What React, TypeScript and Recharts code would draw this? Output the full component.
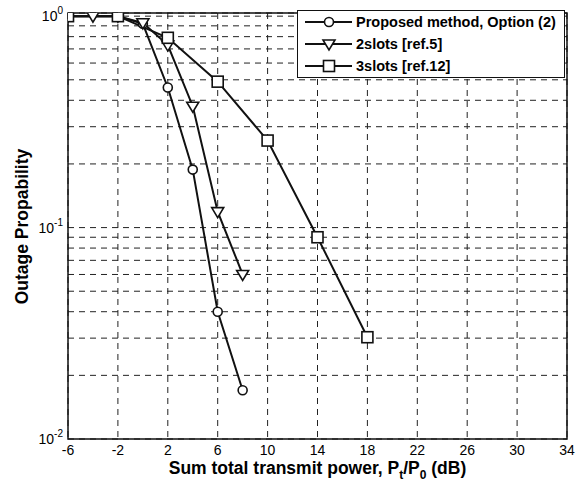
import React from "react";
import {
  LineChart, Line, XAxis, YAxis, CartesianGrid, ReferenceArea, Legend, Label,
} from "recharts";

// x ticks (dB) and log-scale grid values
const xTicks = [-6, -2, 2, 6, 10, 14, 18, 22, 26, 30, 34];
const yGrid = [
  0.01, 0.02, 0.03, 0.04, 0.05, 0.06, 0.07, 0.08, 0.09,
  0.1, 0.2, 0.3, 0.4, 0.5, 0.6, 0.7, 0.8, 0.9, 1,
];

// series
const proposedX = [-6, -2, 0, 2, 4, 6, 8];
const proposedY = [1, 1, 0.92, 0.46, 0.188, 0.04, 0.017];

const twoSlotX = [-6, -4, -2, 0, 2, 4, 6, 8];
const twoSlotY = [1, 1, 1, 0.93, 0.73, 0.375, 0.119, 0.06];

const threeSlotX = [-6, -2, 2, 6, 10, 14, 18];
const threeSlotY = [1, 1, 0.79, 0.49, 0.258, 0.09, 0.0303];

const seriesNames = ["Proposed method, Option (2)", "2slots [ref.5]", "3slots [ref.12]"];

const toRows = (xs: number[], ys: number[]) => xs.map((x, i) => ({ x, y: ys[i] }));

const FONT = "'Liberation Sans', Arial, sans-serif";

const Circle = ({ cx, cy }: any) =>
  cx == null ? null : <circle cx={cx} cy={cy} r={4.5} fill="#fff" stroke="#111" strokeWidth={1.6} />;

const Triangle = ({ cx, cy }: any) =>
  cx == null ? null : (
    <polygon
      points={`${cx - 6},${cy - 4} ${cx + 6},${cy - 4} ${cx},${cy + 6}`}
      fill="#fff" stroke="#111" strokeWidth={1.6}
    />
  );

const Square = ({ cx, cy }: any) =>
  cx == null ? null : (
    <rect x={cx - 5.5} y={cy - 5.5} width={11} height={11} fill="#fff" stroke="#111" strokeWidth={1.6} />
  );

const markers = [Circle, Triangle, Square];

// plot box edges (pixels), used for tick/title placement only
const PLOT_LEFT = 68;
const PLOT_BOTTOM = 439;

const renderXTick = (props: any) => {
  const { x, payload } = props;
  return (
    <text key={`xt${payload.value}`} x={x} y={PLOT_BOTTOM + 16} textAnchor="middle" fontSize={14} fontFamily={FONT} fill="#000">
      {payload.value}
    </text>
  );
};

const renderYTick = (props: any) => {
  const { y, payload } = props;
  const e = Math.log10(payload.value);
  if (Math.abs(e - Math.round(e)) > 1e-6) return <g key={`yt${payload.value}`} />;
  return (
    <text key={`yt${payload.value}`} x={PLOT_LEFT - 5} y={y + 5} textAnchor="end" fontSize={14} fontFamily={FONT} fill="#000">
      <tspan>10</tspan>
      <tspan dy={-7} fontSize={10}>{Math.round(e)}</tspan>
    </text>
  );
};

const renderXTitle = (props: any) => {
  const vb = props.viewBox || { x: 68, width: 499 };
  const cx = vb.x + vb.width / 2;
  return (
    <text x={cx} y={474} textAnchor="middle" fontSize={17.5} fontWeight="bold" fontFamily={FONT} fill="#000">
      Sum total transmit power, P
      <tspan dy={5} fontSize={12}>t</tspan>
      <tspan dy={-5}>/P</tspan>
      <tspan dy={5} fontSize={12}>0</tspan>
      <tspan dy={-5}> (dB)</tspan>
    </text>
  );
};

const renderYTitle = () => (
  <text
    x={28} y={226.5} transform="rotate(-90 28 226.5)" textAnchor="middle"
    fontSize={17.5} fontWeight="bold" fontFamily={FONT} fill="#000"
  >
    Outage Propability
  </text>
);

const LegendBox = () => (
  <div
    style={{
      border: "1.5px solid #111", background: "#fff", width: 268, boxSizing: "border-box",
      fontFamily: FONT, fontWeight: "bold", fontSize: 14.5,
    }}
  >
    {seriesNames.map((name, i) => {
      const M = markers[i];
      return (
        <div key={name} style={{ display: "flex", alignItems: "center", height: 22 }}>
          <svg width={58} height={18} style={{ flex: "none" }}>
            <line x1={7} x2={54} y1={9} y2={9} stroke="#111" strokeWidth={2} />
            <M cx={31} cy={9} />
          </svg>
          <span style={{ whiteSpace: "nowrap", color: "#000" }}>{name}</span>
        </div>
      );
    })}
  </div>
);

export default function App() {
  const data = [
    toRows(proposedX, proposedY),
    toRows(twoSlotX, twoSlotY),
    toRows(threeSlotX, threeSlotY),
  ];
  return (
    <div style={{ position: "absolute", left: 0, top: 0, width: 578, height: 488, background: "#fff" }}>
      <LineChart width={578} height={488} margin={{ top: 13, right: 11, bottom: 0, left: 0 }}>
        <CartesianGrid stroke="#222" strokeDasharray="6 5" strokeWidth={1} />
        <XAxis
          dataKey="x" type="number" domain={[-6, 34]} ticks={xTicks} interval={0}
          height={49} axisLine={false} tickLine={false} tick={renderXTick} allowDataOverflow
        >
          <Label content={renderXTitle} position="bottom" />
        </XAxis>
        <YAxis
          dataKey="y" type="number" scale="log" domain={[0.01, 1.035]} ticks={yGrid} interval={0}
          width={68} axisLine={false} tickLine={false} tick={renderYTick} allowDataOverflow
        >
          <Label content={renderYTitle} position="left" />
        </YAxis>
        <ReferenceArea x1={-6} x2={34} y1={0.01} y2={1.035} fill="none" stroke="#111" strokeWidth={1.5} ifOverflow="visible" />
        {data.map((rows, i) => (
          <Line
            key={seriesNames[i]} data={rows} dataKey="y" name={seriesNames[i]}
            stroke="#111" strokeWidth={2} dot={markers[i]} activeDot={false}
            isAnimationActive={false} type="linear"
          />
        ))}
        <Legend
          layout="vertical" align="center" verticalAlign="middle" content={<LegendBox />}
          wrapperStyle={{ position: "absolute", left: 297, top: 10, width: 268, height: "auto" }}
        />
      </LineChart>
    </div>
  );
}
